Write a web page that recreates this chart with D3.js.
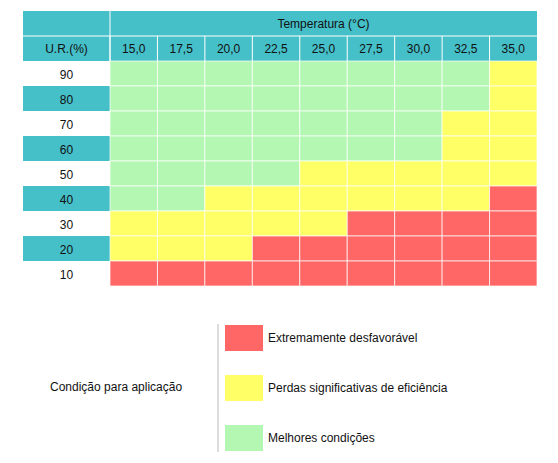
<!DOCTYPE html>
<html><head><meta charset="utf-8">
<script src="https://cdn.jsdelivr.net/npm/d3@7"></script>
<style>body{margin:0;background:#fff}text{font-family:Arial,"Liberation Sans",sans-serif;font-size:12px;fill:#111}</style>
</head><body><svg></svg>
<script>
let temps = ['15,0','17,5','20,0','22,5','25,0','27,5','30,0','32,5','35,0']
let humidity = ['90','80','70','60','50','40','30','20','10']
// G = melhores, Y = perdas, R = extremamente desfavorável
let grid = [
  'GGGGGGGGY',
  'GGGGGGGGY',
  'GGGGGGGYY',
  'GGGGGGGYY',
  'GGGGYYYYY',
  'GGYYYYYYR',
  'YYYYYRRRR',
  'YYYRRRRRR',
  'RRRRRRRRR'
]
let legendKeys = ['R','Y','G']
let legendLabels = ['Extremamente desfavorável','Perdas significativas de eficiência','Melhores condições']
let colors = {G:'#b3f7b3', Y:'#ffff66', R:'#ff6666'}
let teal = '#45bfc8'

let width = 558, height = 463
let leftX = 23, labelW = 87, rightX = 537, topY = 11, rowH = 25

let svg = d3.select('svg').attr('width', width).attr('height', height)

let xScale = d3.scaleBand().domain(temps).range([leftX + labelW, rightX])
let yScale = d3.scaleBand().domain(humidity).range([topY + 2 * rowH, topY + 11 * rowH])

// header
svg.append('rect').attr('x', leftX).attr('y', topY).attr('width', rightX - leftX).attr('height', 2 * rowH).attr('fill', teal)
svg.append('line').attr('x1', leftX).attr('x2', rightX).attr('y1', topY + rowH).attr('y2', topY + rowH).attr('stroke', '#fff')
svg.append('line').attr('x1', leftX + labelW).attr('x2', leftX + labelW).attr('y1', topY).attr('y2', topY + 2 * rowH).attr('stroke', '#fff')
svg.append('text').attr('x', (leftX + labelW + rightX) / 2).attr('y', topY + rowH / 2 + 4).attr('text-anchor', 'middle').text('Temperatura (°C)')
svg.append('text').attr('x', leftX + labelW / 2).attr('y', topY + rowH * 1.5 + 4).attr('text-anchor', 'middle').text('U.R.(%)')
temps.forEach(t => {
  svg.append('text').attr('x', xScale(t) + xScale.bandwidth() / 2).attr('y', topY + rowH * 1.5 + 4).attr('text-anchor', 'middle').text(t)
  svg.append('line').attr('x1', xScale(t)).attr('x2', xScale(t)).attr('y1', topY + rowH).attr('y2', topY + 2 * rowH).attr('stroke', '#fff')
})

// row labels
humidity.forEach((h, i) => {
  if (i % 2 === 1) svg.append('rect').attr('x', leftX).attr('y', yScale(h)).attr('width', labelW).attr('height', yScale.bandwidth()).attr('fill', teal)
  svg.append('text').attr('x', leftX + labelW / 2).attr('y', yScale(h) + yScale.bandwidth() / 2 + 5).attr('text-anchor', 'middle').text(h)
})

// cells
let cells = []
humidity.forEach((h, i) => temps.forEach((t, j) => cells.push({h, t, k: grid[i][j]})))
svg.selectAll('.cell').data(cells).enter().append('rect')
  .attr('x', d => xScale(d.t)).attr('y', d => yScale(d.h))
  .attr('width', xScale.bandwidth()).attr('height', yScale.bandwidth())
  .attr('fill', d => colors[d.k]).attr('stroke', '#fff').attr('stroke-opacity', 0.7)

// legend
svg.append('line').attr('x1', 218).attr('x2', 218).attr('y1', 324).attr('y2', 452).attr('stroke', '#bbb')
svg.append('text').attr('x', 50).attr('y', 391).text('Condição para aplicação')
let ly = d3.scalePoint().domain(legendKeys).range([325, 425])
legendKeys.forEach((k, i) => {
  svg.append('rect').attr('x', 225).attr('y', ly(k)).attr('width', 38).attr('height', 26).attr('fill', colors[k])
  svg.append('text').attr('x', 268).attr('y', ly(k) + 17).text(legendLabels[i])
})
</script></body></html>
